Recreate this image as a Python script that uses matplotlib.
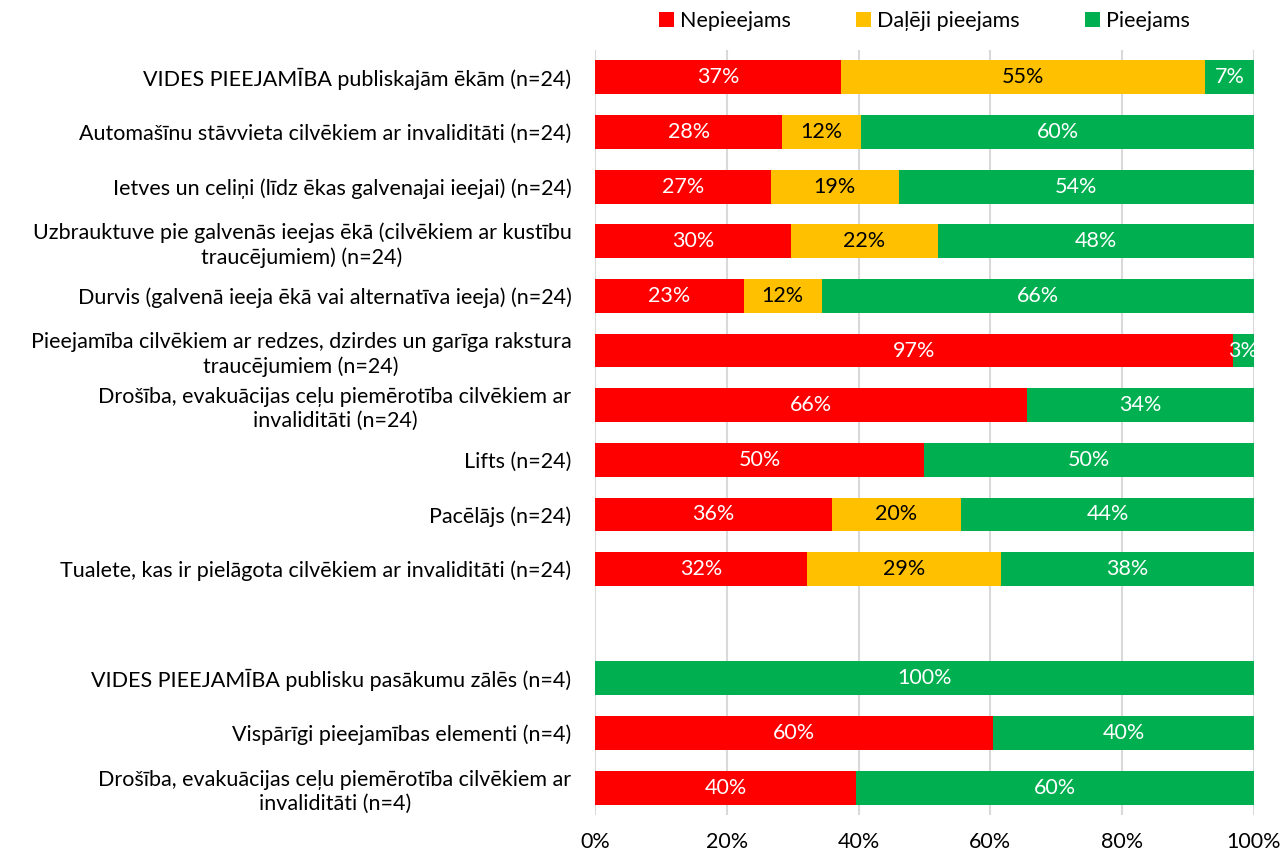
import numpy as np
import matplotlib.pyplot as plt

plt.rcParams['font.family'] = ['Lato', 'DejaVu Sans']

categories = [
    "VIDES PIEEJAMĪBA publiskajām ēkām (n=24)",
    "Automašīnu stāvvieta cilvēkiem ar invaliditāti (n=24)",
    "Ietves un celiņi (līdz ēkas galvenajai ieejai) (n=24)",
    "Uzbrauktuve pie galvenās ieejas ēkā (cilvēkiem ar kustību\ntraucējumiem) (n=24)",
    "Durvis (galvenā ieeja ēkā vai alternatīva ieeja) (n=24)",
    "Pieejamība cilvēkiem ar redzes, dzirdes un garīga rakstura\ntraucējumiem (n=24)",
    "Drošība, evakuācijas ceļu piemērotība cilvēkiem ar\ninvaliditāti (n=24)",
    "Lifts (n=24)",
    "Pacēlājs (n=24)",
    "Tualete, kas ir pielāgota cilvēkiem ar invaliditāti (n=24)",
    "",
    "VIDES PIEEJAMĪBA publisku pasākumu zālēs (n=4)",
    "Vispārīgi pieejamības elementi (n=4)",
    "Drošība, evakuācijas ceļu piemērotība cilvēkiem ar\ninvaliditāti (n=4)",
]

# shares in percent, one list per answer
nepieejams = [37.3, 28.4, 26.7, 29.7, 22.6, 96.8, 65.6, 50.0, 35.9, 32.2, 0, 0.0, 60.4, 39.6]
daleji = [55.3, 12.0, 19.4, 22.4, 11.8, 0.0, 0.0, 0.0, 19.7, 29.4, 0, 0.0, 0.0, 0.0]
pieejams = [7.4, 59.6, 53.9, 47.9, 65.6, 3.2, 34.4, 50.0, 44.4, 38.4, 0, 100.0, 39.6, 60.4]

series = [
    ("Nepieejams", nepieejams, "#FF0000", "white"),
    ("Daļēji pieejams", daleji, "#FFC000", "black"),
    ("Pieejams", pieejams, "#00B050", "white"),
]

FS = 15.5

fig = plt.figure(figsize=(12.84, 8.56), dpi=100)
ax = fig.add_axes([0.4634, 0.0479, 0.5132, 0.8937])

y = np.arange(len(categories))
left = np.zeros(len(categories))
for name, vals, color, tcolor in series:
    vals = np.array(vals, dtype=float)
    ax.barh(y, vals, left=left, height=0.62, color=color, label=name, zorder=2)
    for yi, v, l in zip(y, vals, left):
        if v > 0:
            ax.text(l + v / 2, yi, f"{v:.0f}%", ha="center", va="center",
                    color=tcolor, fontsize=FS, zorder=3)
    left += vals

ax.set_xlim(0, 100)
ax.set_ylim(len(categories) - 0.5, -0.5)
ax.set_xticks(np.arange(0, 101, 20))
ax.set_xticklabels([f"{t}%" for t in range(0, 101, 20)], fontsize=FS)
ax.set_yticks(y)
ax.set_yticklabels(categories, fontsize=FS, multialignment="center", linespacing=1.25)
ax.tick_params(axis="both", length=0, colors="black")
ax.tick_params(axis="x", pad=12)
ax.tick_params(axis="y", pad=17)
ax.grid(axis="x", color="#D9D9D9", linewidth=1.5, zorder=0)
for s in ax.spines.values():
    s.set_visible(False)

ax.legend(loc="lower center", bbox_to_anchor=(0.5, 1.0), ncol=3, frameon=False,
          fontsize=FS, handlelength=0.7, handleheight=0.7, columnspacing=3.0,
          handletextpad=0.3)

fig.savefig("out.png", dpi=100)
